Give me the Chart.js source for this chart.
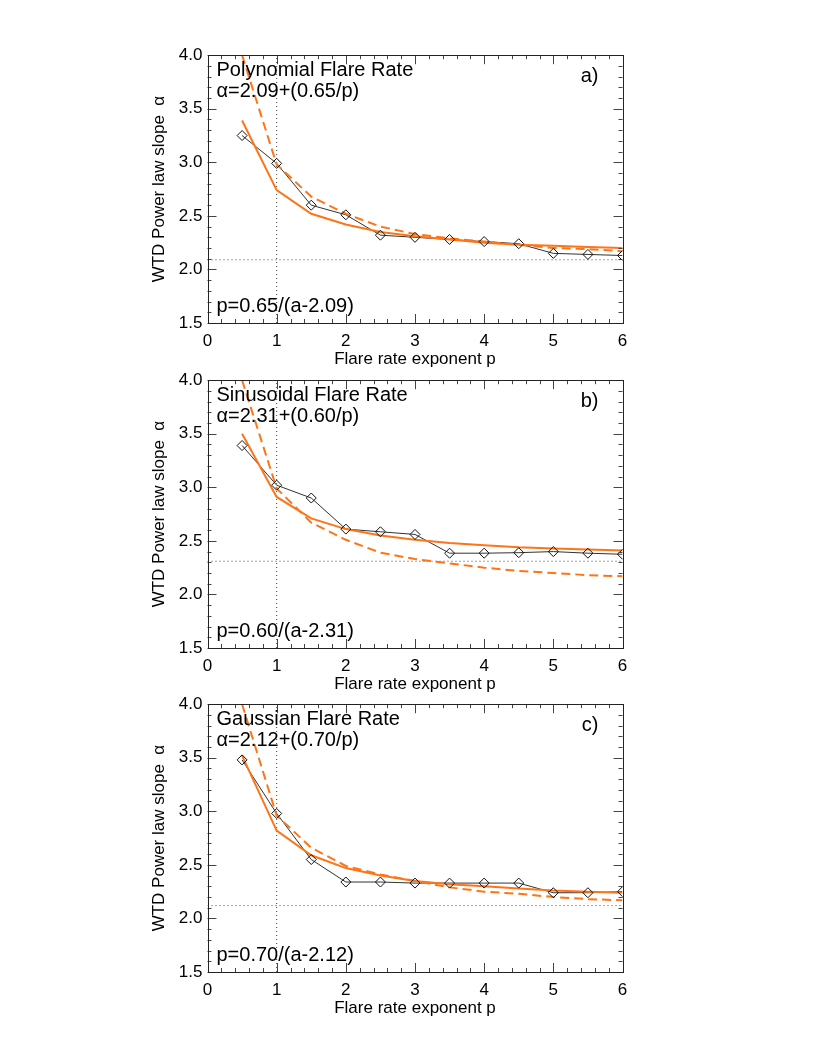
<!DOCTYPE html>
<html>
<head>
<meta charset="utf-8">
<script src="https://cdn.jsdelivr.net/npm/chart.js@4.4.1/dist/chart.umd.min.js"></script>
<style>
    html, body { margin: 0; padding: 0; background: #fff; }
    body { width: 830px; height: 1038px; position: relative; overflow: hidden; }
    .panel { position: absolute; left: 0; width: 830px; height: 335px; }
</style>
</head>
<body>
<div class="panel" style="top:40px"><canvas id="chartA" width="830" height="335"></canvas></div>
<div class="panel" style="top:364.5px"><canvas id="chartB" width="830" height="335"></canvas></div>
<div class="panel" style="top:689px"><canvas id="chartC" width="830" height="335"></canvas></div>
<script>
// Flare rate exponent p (x positions of every curve)
const flareExponent = [0.5, 1, 1.5, 2, 2.5, 3, 3.5, 4, 4.5, 5, 5.5, 6];

// Axis tick labels
const xTickValues = [0, 1, 2, 3, 4, 5, 6];
const yTickValues = [1.5, 2.0, 2.5, 3.0, 3.5, 4.0];

// a) Polynomial flare rate
const polyWtd    = [3.25, 2.99, 2.60, 2.51, 2.32, 2.30, 2.28, 2.26, 2.24, 2.15, 2.14, 2.13];
const polyFit    = [3.39, 2.74, 2.52, 2.42, 2.35, 2.31, 2.28, 2.25, 2.23, 2.22, 2.21, 2.20];
const polyDashed = [4.00, 2.98, 2.68, 2.52, 2.40, 2.33, 2.29, 2.26, 2.23, 2.20, 2.19, 2.17];

// b) Sinusoidal flare rate
const sinWtd    = [3.39, 3.02, 2.90, 2.61, 2.585, 2.56, 2.385, 2.385, 2.39, 2.40, 2.385, 2.375];
const sinFit    = [3.50, 2.91, 2.71, 2.61, 2.55, 2.51, 2.48, 2.46, 2.44, 2.43, 2.42, 2.41];
const sinDashed = [4.00, 2.99, 2.67, 2.51, 2.39, 2.33, 2.29, 2.25, 2.22, 2.20, 2.18, 2.17];

// c) Gaussian flare rate
const gaussWtd    = [3.48, 2.98, 2.55, 2.34, 2.34, 2.33, 2.33, 2.33, 2.33, 2.24, 2.24, 2.25];
const gaussFit    = [3.52, 2.82, 2.59, 2.47, 2.40, 2.35, 2.32, 2.30, 2.28, 2.26, 2.25, 2.24];
const gaussDashed = [4.00, 2.96, 2.66, 2.49, 2.41, 2.35, 2.29, 2.25, 2.23, 2.20, 2.18, 2.17];

// Reference lines
const pReference = 1;
const alphaOffsets = [2.09, 2.31, 2.12];

// Panel labels
const panelNames = ['Polynomial Flare Rate', 'Sinusoidal Flare Rate', 'Gaussian Flare Rate'];
const panelFormulas = ['\u03b1=2.09+(0.65/p)', '\u03b1=2.31+(0.60/p)', '\u03b1=2.12+(0.70/p)'];
const panelInverse = ['p=0.65/(a-2.09)', 'p=0.60/(a-2.31)', 'p=0.70/(a-2.12)'];
const panelLetters = ['a)', 'b)', 'c)'];

const ORANGE = '#ff7416';
const FONT = '"Liberation Sans", Arial, Helvetica, sans-serif';

document.addEventListener('DOMContentLoaded', function() {
    initializePanel('chartA', 0, polyWtd, polyFit, polyDashed);
    initializePanel('chartB', 1, sinWtd, sinFit, sinDashed);
    initializePanel('chartC', 2, gaussWtd, gaussFit, gaussDashed);
});

function toPoints(values) {
    return values.map((v, i) => ({ x: flareExponent[i], y: v }));
}

// Box with inward ticks on all four sides, IDL style
const frameTicks = {
    id: 'frameTicks',
    afterDraw(chart) {
        const { ctx, chartArea: a, scales: { x, y } } = chart;
        ctx.save();
        ctx.strokeStyle = '#444';
        ctx.lineWidth = 1;
        ctx.beginPath();
        for (let i = 0; i <= 30; i++) {
            const px = Math.round(x.getPixelForValue(i * 0.2)) + 0.5;
            const len = i % 5 === 0 ? 9 : 4;
            ctx.moveTo(px, a.bottom); ctx.lineTo(px, a.bottom - len);
            ctx.moveTo(px, a.top); ctx.lineTo(px, a.top + len);
        }
        for (let j = 0; j <= 25; j++) {
            const py = Math.round(y.getPixelForValue(1.5 + j * 0.1)) + 0.5;
            const len = j % 5 === 0 ? 9 : 4;
            ctx.moveTo(a.left, py); ctx.lineTo(a.left + len, py);
            ctx.moveTo(a.right, py); ctx.lineTo(a.right - len, py);
        }
        ctx.stroke();
        ctx.strokeStyle = '#222';
        ctx.strokeRect(Math.round(a.left) + 0.5, Math.round(a.top) + 0.5,
            Math.round(a.right - a.left), Math.round(a.bottom - a.top));
        ctx.restore();
    }
};

// Text written inside the plot box
const panelText = {
    id: 'panelText',
    afterDraw(chart, args, opts) {
        const { ctx, chartArea: a } = chart;
        ctx.save();
        ctx.fillStyle = '#000';
        ctx.font = '20px ' + FONT;
        ctx.textBaseline = 'alphabetic';
        ctx.textAlign = 'left';
        ctx.fillText(opts.name, a.left + 9, a.top + 21);
        ctx.fillText(opts.formula, a.left + 9, a.top + 42);
        ctx.fillText(opts.inverse, a.left + 9, a.bottom - 11);
        ctx.textAlign = 'right';
        ctx.fillText(opts.letter, a.right - 24, a.top + 27);
        ctx.restore();
    }
};

function initializePanel(canvasId, idx, wtd, fit, dashed) {
    const ctx = document.getElementById(canvasId).getContext('2d');
    const offset = alphaOffsets[idx];
    new Chart(ctx, {
        type: 'line',
        data: {
            datasets: [
                {
                    // diamonds drawn last, over the orange curves
                    data: toPoints(wtd),
                    showLine: false,
                    pointStyle: 'rectRot',
                    pointRadius: 5,
                    pointBorderWidth: 1,
                    pointBorderColor: '#111',
                    pointBackgroundColor: 'rgba(0,0,0,0)',
                    order: 0
                },
                {
                    data: toPoints(fit),
                    borderColor: ORANGE,
                    borderWidth: 2,
                    pointRadius: 0,
                    order: 1
                },
                {
                    data: toPoints(dashed),
                    borderColor: ORANGE,
                    borderWidth: 2,
                    borderDash: [9, 5],
                    pointRadius: 0,
                    order: 2
                },
                {
                    data: toPoints(wtd),
                    borderColor: '#333',
                    borderWidth: 1,
                    pointRadius: 0,
                    order: 3
                },
                {
                    data: [{ x: xTickValues[0], y: offset }, { x: xTickValues[xTickValues.length - 1], y: offset }],
                    borderColor: '#444',
                    borderWidth: 1,
                    borderDash: [1, 3],
                    pointRadius: 0,
                    order: 4
                },
                {
                    data: [{ x: pReference, y: yTickValues[0] }, { x: pReference, y: yTickValues[yTickValues.length - 1] }],
                    borderColor: '#444',
                    borderWidth: 1,
                    borderDash: [1, 3],
                    pointRadius: 0,
                    order: 4
                }
            ]
        },
        options: {
            responsive: false,
            animation: false,
            layout: {
                padding: { left: 147.5, right: 207.5, top: 13, bottom: 0 }
            },
            plugins: {
                legend: { display: false },
                tooltip: { enabled: false },
                panelText: {
                    name: panelNames[idx],
                    formula: panelFormulas[idx],
                    inverse: panelInverse[idx],
                    letter: panelLetters[idx]
                }
            },
            scales: {
                x: {
                    type: 'linear',
                    min: 0,
                    max: 6,
                    afterBuildTicks: s => { s.ticks = xTickValues.map(v => ({ value: v })); },
                    afterFit: s => { s.height = 52; },
                    grid: { display: false, drawTicks: false },
                    border: { display: false },
                    ticks: {
                        color: '#000',
                        padding: 8,
                        maxRotation: 0,
                        font: { family: FONT, size: 17 },
                        callback: v => String(v)
                    },
                    title: {
                        display: true,
                        text: 'Flare rate exponent p',
                        color: '#000',
                        padding: { top: 0, bottom: 5 },
                        font: { family: FONT, size: 17 }
                    }
                },
                y: {
                    type: 'linear',
                    min: 1.5,
                    max: 4.0,
                    afterBuildTicks: s => { s.ticks = yTickValues.map(v => ({ value: v })); },
                    afterFit: s => { s.width = 60; },
                    grid: { display: false, drawTicks: false },
                    border: { display: false },
                    ticks: {
                        color: '#000',
                        padding: 5,
                        font: { family: FONT, size: 17 },
                        callback: v => Number(v).toFixed(1)
                    },
                    title: {
                        display: true,
                        text: 'WTD Power law slope  \u03b1',
                        color: '#000',
                        padding: { top: 2, bottom: 0 },
                        font: { family: FONT, size: 17 }
                    }
                }
            }
        },
        plugins: [frameTicks, panelText]
    });
}
</script>
</body>
</html>
